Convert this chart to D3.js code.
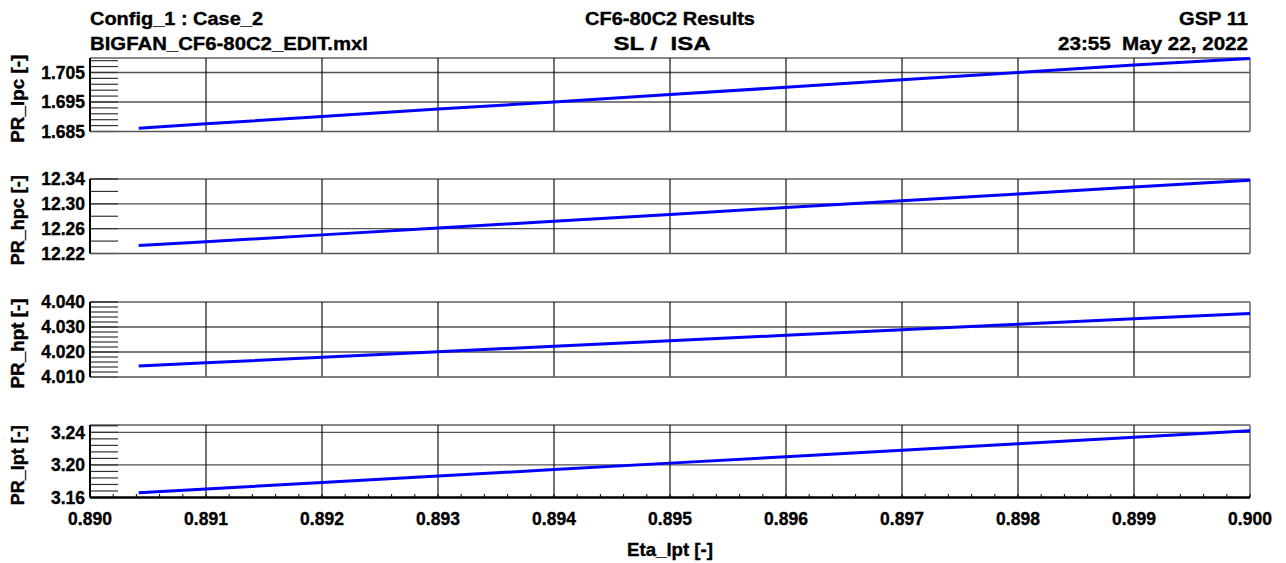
<!DOCTYPE html>
<html>
<head>
<meta charset="utf-8">
<script src="https://cdn.jsdelivr.net/npm/d3@7"></script>
<style>
  html, body { margin: 0; padding: 0; background: #fff; }
  svg { display: block; }
  text { font-family: "Liberation Sans", Arial, sans-serif; font-weight: bold; fill: #000;
         stroke: #000; stroke-width: 0.35px; white-space: pre; }
</style>
</head>
<body>
<svg id="chart" width="1286" height="563"></svg>
<script>
// ---- data ----
const etaLpt = [0.89042, 0.891, 0.892, 0.893, 0.894, 0.895, 0.896, 0.897, 0.898, 0.899, 0.900];
const prLpc  = [1.6861, 1.6876, 1.6901, 1.6926, 1.6950, 1.6975, 1.7000, 1.7025, 1.7050, 1.7075, 1.7097];
const prHpc  = [12.233, 12.239, 12.250, 12.261, 12.272, 12.283, 12.294, 12.305, 12.316, 12.327, 12.338];
const prHpt  = [4.0144, 4.0157, 4.0179, 4.0201, 4.0223, 4.0245, 4.0267, 4.0289, 4.0311, 4.0333, 4.0354];
const prLpt  = [3.1659, 3.1705, 3.1784, 3.1863, 3.1943, 3.2022, 3.2101, 3.2180, 3.2259, 3.2339, 3.2418];

const yTitles = ["PR_lpc [-]", "PR_hpc [-]", "PR_hpt [-]", "PR_lpt [-]"];
const yDomains = [[1.685, 1.7099], [12.22, 12.34], [4.010, 4.040], [3.16, 3.249]];
const yMajorTicks = [[1.685, 1.695, 1.705], [12.22, 12.26, 12.30, 12.34], [4.010, 4.020, 4.030, 4.040], [3.16, 3.20, 3.24]];
const yTickFormats = [".3f", ".2f", ".3f", ".2f"];
const yMinorSteps = [0.002, 0.02, 0.002, 0.008];

const xTicks = [0.890, 0.891, 0.892, 0.893, 0.894, 0.895, 0.896, 0.897, 0.898, 0.899, 0.900];
const xDomain = [0.890, 0.900];
const xMinorStep = 0.0002;
const xTitle = "Eta_lpt [-]";

const headerLeft = ["Config_1 : Case_2", "BIGFAN_CF6-80C2_EDIT.mxl"];
const headerCenter = ["CF6-80C2 Results", "SL /  ISA"];
const headerRight = ["GSP 11", "23:55  May 22, 2022"];

// ---- layout ----
const left = 90, right = 1250;
const panelBoxes = [[58, 131.5], [179, 253.5], [302, 377], [425, 497.5]];
const series = [prLpc, prHpc, prHpt, prLpt];
// the header face renders wide; widths of each header line in px
const headerWidths = { left: [173, 278], center: [170, 97], right: [69, 190] };
const centerX = [670, 662];
const yTitleWidths = [88, 90, 90, 80];

const svg = d3.select("#chart");
const x = d3.scaleLinear().domain(xDomain).range([left, right]);

// header texts
const hdr = svg.append("g").attr("font-size", 18);
function headerLine(t, xPos, yPos, anchor, w) {
  hdr.append("text").attr("x", xPos).attr("y", yPos).attr("text-anchor", anchor)
    .attr("textLength", w).attr("lengthAdjust", "spacingAndGlyphs")
    .attr("xml:space", "preserve").text(t);
}
headerLeft.forEach((t, i) => headerLine(t, left, 25 + i * 24.5, "start", headerWidths.left[i]));
headerCenter.forEach((t, i) => headerLine(t, centerX[i], 25 + i * 24.5, "middle", headerWidths.center[i]));
headerRight.forEach((t, i) => headerLine(t, 1248, 25 + i * 24.5, "end", headerWidths.right[i]));

function minorValues(domain, step) {
  const out = [];
  const n = Math.floor((domain[1] - domain[0]) / step + 1e-6);
  for (let k = 0; k <= n; k++) out.push(+(domain[0] + k * step).toFixed(6));
  return out;
}

series.forEach((vals, p) => {
  const [top, bottom] = panelBoxes[p];
  const y = d3.scaleLinear().domain(yDomains[p]).range([bottom, top]);
  const g = svg.append("g");
  const last = p === series.length - 1;

  // horizontal grid at major ticks
  g.selectAll(".hgrid").data(yMajorTicks[p].filter(v => v > yDomains[p][0] + 1e-9 && y(v) > top + 2))
    .join("line")
    .attr("x1", left).attr("x2", right)
    .attr("y1", d => y(d)).attr("y2", d => y(d))
    .attr("stroke", "#555").attr("stroke-width", 1.4);

  // vertical grid
  g.selectAll(".vgrid").data(xTicks.slice(1, -1))
    .join("line")
    .attr("x1", d => x(d)).attr("x2", d => x(d))
    .attr("y1", top).attr("y2", bottom)
    .attr("stroke", "#000").attr("stroke-width", 1.1);

  // minor ticks along left axis
  g.selectAll(".minor").data(minorValues(yDomains[p], yMinorSteps[p]))
    .join("line")
    .attr("x1", left).attr("x2", left + 28)
    .attr("y1", d => y(d)).attr("y2", d => y(d))
    .attr("stroke", "#333").attr("stroke-width", 1.2);

  // frame
  g.append("line").attr("x1", left).attr("x2", right).attr("y1", top).attr("y2", top)
    .attr("stroke", "#111").attr("stroke-width", 1.2);
  g.append("line").attr("x1", right).attr("x2", right).attr("y1", top).attr("y2", bottom)
    .attr("stroke", "#666").attr("stroke-width", 1.5);
  g.append("line").attr("x1", left).attr("x2", right).attr("y1", bottom).attr("y2", bottom)
    .attr("stroke", last ? "#000" : "#555").attr("stroke-width", last ? 2.5 : 1.5);
  g.append("line").attr("x1", left).attr("x2", left).attr("y1", top).attr("y2", bottom)
    .attr("stroke", "#000").attr("stroke-width", 2);

  // y tick labels
  const fmt = d3.format(yTickFormats[p]);
  g.selectAll(".ylab").data(yMajorTicks[p])
    .join("text")
    .attr("x", 85).attr("y", d => y(d)).attr("dy", "0.36em")
    .attr("text-anchor", "end").attr("font-size", 17.5)
    .text(d => fmt(d));

  // y title
  g.append("text")
    .attr("transform", `translate(24,${(top + bottom) / 2 + 4}) rotate(-90)`)
    .attr("text-anchor", "middle").attr("font-size", 17.5)
    .attr("textLength", yTitleWidths[p]).attr("lengthAdjust", "spacingAndGlyphs")
    .text(yTitles[p]);

  // data line
  const line = d3.line().x((d, i) => x(etaLpt[i])).y(d => y(d));
  g.append("path").datum(vals)
    .attr("d", line)
    .attr("fill", "none").attr("stroke", "#0000ff").attr("stroke-width", 3);

  if (last) {
    // minor x ticks along bottom axis
    g.selectAll(".xminor").data(minorValues(xDomain, xMinorStep))
      .join("line")
      .attr("x1", d => x(d)).attr("x2", d => x(d))
      .attr("y1", bottom).attr("y2", bottom - 3.5)
      .attr("stroke", "#000").attr("stroke-width", 1);

    const xfmt = d3.format(".3f");
    g.selectAll(".xlab").data(xTicks)
      .join("text")
      .attr("x", d => x(d)).attr("y", 525)
      .attr("text-anchor", "middle").attr("font-size", 17.5)
      .text(d => xfmt(d));

    g.append("text").attr("x", 670).attr("y", 556)
      .attr("text-anchor", "middle").attr("font-size", 17.5)
      .attr("textLength", 86).attr("lengthAdjust", "spacingAndGlyphs")
      .text(xTitle);
  }
});
</script>
</body>
</html>
